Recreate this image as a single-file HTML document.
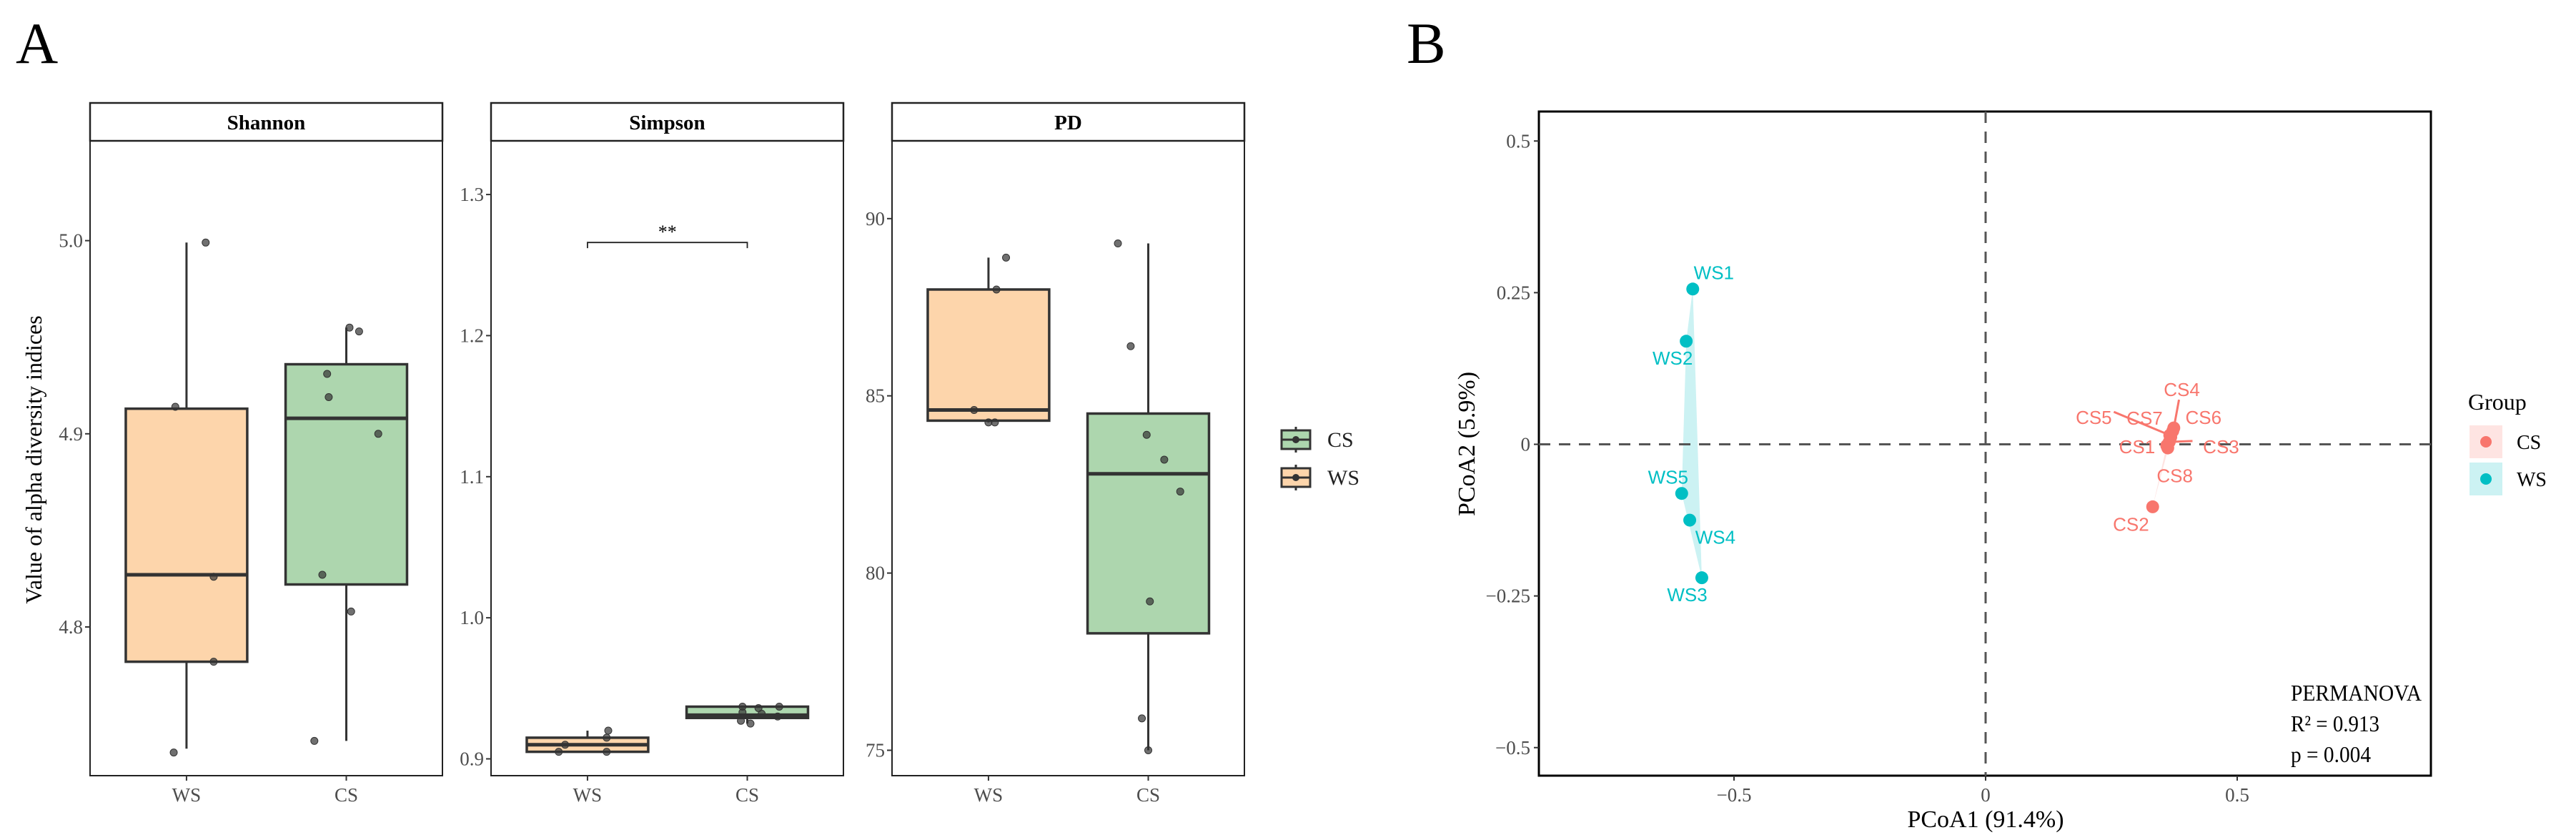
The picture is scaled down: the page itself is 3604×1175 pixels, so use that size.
<!DOCTYPE html>
<html><head><meta charset="utf-8"><style>
html,body{margin:0;padding:0;background:#fff;}
svg{display:block;font-family:"Liberation Serif",serif;}
</style></head><body>
<svg id="fig" width="3604" height="1175" viewBox="0 0 3604 1175" xmlns="http://www.w3.org/2000/svg">
<text x="22" y="88" font-size="82">A</text>
<text x="1968" y="88" font-size="82">B</text>
<text transform="translate(58,643) rotate(-90)" text-anchor="middle" font-size="32">Value of alpha diversity indices</text>
<g id="alpha"></g>
<g id="legend-alpha">
  <line x1="1813" y1="597" x2="1813" y2="633" stroke="#333" stroke-width="3"/>
  <rect x="1793" y="602" width="40" height="26" fill="#ADD6AE" stroke="#333" stroke-width="3"/>
  <line x1="1793" y1="615" x2="1833" y2="615" stroke="#333" stroke-width="3"/>
  <circle cx="1813" cy="615" r="5" fill="#333"/>
  <text x="1857" y="625" font-size="30" fill="#222">CS</text>
  <line x1="1813" y1="650" x2="1813" y2="686" stroke="#333" stroke-width="3"/>
  <rect x="1793" y="655" width="40" height="26" fill="#FDD5AB" stroke="#333" stroke-width="3"/>
  <line x1="1793" y1="668" x2="1833" y2="668" stroke="#333" stroke-width="3"/>
  <circle cx="1813" cy="668" r="5" fill="#333"/>
  <text x="1857" y="678" font-size="30" fill="#222">WS</text>
</g>
<g id="pcoa"></g>
</svg>
<script>
// ---------- alpha diversity data ----------
const groups = ["WS","CS"];
const shannonWS = [4.999,4.914,4.826,4.782,4.735];
const shannonCS = [4.955,4.953,4.931,4.919,4.900,4.827,4.808,4.741];
const shannonJitWS = [0.12,-0.07,0.17,0.17,-0.08];
const shannonJitCS = [0.02,0.08,-0.12,-0.11,0.20,-0.15,0.03,-0.20];
const shannonBoxWS = [4.737,4.782,4.827,4.913,4.999];
const shannonBoxCS = [4.741,4.822,4.908,4.936,4.955];
const shannonTicks = [4.8,4.9,5.0];
const simpsonWS = [0.905,0.910,0.905,0.915,0.920];
const simpsonCS = [0.937,0.933,0.936,0.932,0.927,0.925,0.930,0.937];
const simpsonJitWS = [-0.18,-0.14,0.12,0.12,0.13];
const simpsonJitCS = [-0.03,-0.03,0.07,0.09,-0.04,0.02,0.19,0.20];
const simpsonBoxWS = [0.905,0.905,0.910,0.915,0.920];
const simpsonBoxCS = [0.925,0.929,0.931,0.937,0.937];
const simpsonTicks = [0.9,1.0,1.1,1.2,1.3];
const pdWS = [88.9,88.0,84.6,84.25,84.25];
const pdCS = [89.3,86.4,83.9,83.2,82.3,79.2,75.9,75.0];
const pdJitWS = [0.11,0.05,-0.09,0,0.04];
const pdJitCS = [-0.19,-0.11,-0.01,0.10,0.20,0.01,-0.04,0];
const pdBoxWS = [84.25,84.3,84.6,88.0,88.9];
const pdBoxCS = [75.0,78.3,82.8,84.5,89.3];
const pdTicks = [75,80,85,90];
const sigBracket = [1.262,1.266];

const NS="http://www.w3.org/2000/svg";
function mk(tag,attrs,parent,txt){const e=document.createElementNS(NS,tag);for(const k in attrs)e.setAttribute(k,attrs[k]);if(txt!==undefined)e.textContent=txt;parent.appendChild(e);return e;}
const fills={WS:"#FDD5AB",CS:"#ADD6AE"};
const alpha=document.getElementById('alpha');

const panels=[
 {name:"Shannon",x0:126,x1:619,ref:5.0,refY:336.6,ppu:2702,ticks:shannonTicks,fmt:v=>v.toFixed(1),
  pts:[shannonWS,shannonCS],jit:[shannonJitWS,shannonJitCS],box:[shannonBoxWS,shannonBoxCS]},
 {name:"Simpson",x0:687,x1:1180,ref:0.9,refY:1061.5,ppu:1973.5,ticks:simpsonTicks,fmt:v=>v.toFixed(1),
  pts:[simpsonWS,simpsonCS],jit:[simpsonJitWS,simpsonJitCS],box:[simpsonBoxWS,simpsonBoxCS],sig:true},
 {name:"PD",x0:1248,x1:1741,ref:90,refY:305.8,ppu:49.58,ticks:pdTicks,fmt:v=>String(v),
  pts:[pdWS,pdCS],jit:[pdJitWS,pdJitCS],box:[pdBoxWS,pdBoxCS]}
];
panels.forEach(p=>{
  const g=mk('g',{},alpha);
  
  
  const y=v=>p.refY+(p.ref-v)*p.ppu;
  const w=p.x1-p.x0, step=w*0.4535, cx=[p.x0+w*0.2737, p.x0+w*0.2737+step];
  const bw=step*0.76;
  const top=197,bot=1085;
  const strip=mk('rect',{x:p.x0,y:144,width:w,height:53,fill:"#fff",stroke:"#222","stroke-width":2.5},g);
  
  
  mk('text',{x:(p.x0+p.x1)/2,y:181,"text-anchor":"middle","font-size":29,"font-weight":"bold"},g,p.name);
  mk('rect',{x:p.x0,y:top,width:w,height:bot-top,fill:"none",stroke:"#222","stroke-width":2},g);
  p.ticks.forEach(t=>{
    const ty=y(t);
    mk('line',{x1:p.x0-7,y1:ty,x2:p.x0,y2:ty,stroke:"#333","stroke-width":2},g);
    const tl=mk('text',{x:p.x0-10,y:ty+9,"text-anchor":"end","font-size":27,fill:"#4d4d4d"},g,p.fmt(t));
    
    
  });
  groups.forEach((gname,i)=>{
    mk('line',{x1:cx[i],y1:bot,x2:cx[i],y2:bot+7,stroke:"#333","stroke-width":2},g);
    const xl=mk('text',{x:cx[i],y:1121,"text-anchor":"middle","font-size":27,fill:"#4d4d4d"},g,gname);
    
    
    const b=p.box[i];
    mk('line',{x1:cx[i],y1:y(b[0]),x2:cx[i],y2:y(b[1]),stroke:"#333","stroke-width":3},g);
    mk('line',{x1:cx[i],y1:y(b[3]),x2:cx[i],y2:y(b[4]),stroke:"#333","stroke-width":3},g);
    const bx=mk('rect',{x:cx[i]-bw/2,y:y(b[3]),width:bw,height:Math.max(1,y(b[1])-y(b[3])),fill:fills[gname],stroke:"#333","stroke-width":3.5},g);
    
    
    mk('line',{x1:cx[i]-bw/2,y1:y(b[2]),x2:cx[i]+bw/2,y2:y(b[2]),stroke:"#333","stroke-width":5},g);
    p.pts[i].forEach((v,k)=>{
      const c=mk('circle',{cx:cx[i]+p.jit[i][k]*step,cy:y(v),r:5,fill:"#333","fill-opacity":0.7,stroke:"#333","stroke-width":1},g);
      
      
    });
  });
  if(p.sig){
    const by=y(sigBracket[1]), ty=y(sigBracket[0]);
    mk('path',{d:`M${cx[0]},${ty}V${by}H${cx[1]}V${ty}`,fill:"none",stroke:"#222","stroke-width":1.8},g);
    const s=mk('text',{x:(cx[0]+cx[1])/2,y:by-6,"text-anchor":"middle","font-size":26},g,"**");
    
    
  }
});

// ---------- PCoA data ----------
const wsNames=["WS1","WS2","WS3","WS4","WS5"];
const wsX=[-0.582,-0.595,-0.564,-0.588,-0.604];
const wsY=[0.256,0.170,-0.220,-0.125,-0.081];
const wsLabX=[-0.540,-0.622,-0.593,-0.537,-0.631];
const wsLabY=[0.283,0.142,-0.248,-0.153,-0.054];
const csNames=["CS1","CS2","CS3","CS4","CS5","CS6","CS7","CS8"];
const csX=[0.360,0.332,0.365,0.374,0.366,0.372,0.368,0.362];
const csY=[-0.002,-0.103,0.004,0.027,0.015,0.022,0.012,-0.006];
const csLabX=[0.301,0.289,0.468,0.390,0.215,0.433,0.316,0.376];
const csLabY=[-0.004,-0.132,-0.004,0.090,0.044,0.044,0.043,-0.052];
const pTicksX=[-0.5,0,0.5];
const pTicksY=[-0.5,-0.25,0,0.25,0.5];
const pStats=["PERMANOVA","R² = 0.913","p = 0.004"];

const pc=document.getElementById('pcoa');
const PX0=2153,PX1=3401,PY0=156,PY1=1085;
const sx=v=>2778+v*704, sy=v=>621.5-v*848.5;
const cols={WS:"#00BFC4",CS:"#F8766D"};
mk('rect',{x:PX0,y:PY0,width:PX1-PX0,height:PY1-PY0,fill:"#fff",stroke:"#000","stroke-width":3},pc);
function hull(xs,ys){
  const pts=xs.map((x,i)=>[x,ys[i]]).sort((a,b)=>a[0]-b[0]||a[1]-b[1]);
  const cr=(o,a,b)=>(a[0]-o[0])*(b[1]-o[1])-(a[1]-o[1])*(b[0]-o[0]);
  const lo=[],up=[];
  for(const p of pts){while(lo.length>=2&&cr(lo[lo.length-2],lo[lo.length-1],p)<=0)lo.pop();lo.push(p);}
  for(const p of pts.slice().reverse()){while(up.length>=2&&cr(up[up.length-2],up[up.length-1],p)<=0)up.pop();up.push(p);}
  return lo.slice(0,-1).concat(up.slice(0,-1));
}
[[wsX,wsY,"WS"],[csX,csY,"CS"]].forEach(([xs,ys,gname])=>{
  const h=hull(xs,ys);
  const poly=mk('polygon',{points:h.map(p=>sx(p[0])+","+sy(p[1])).join(" "),fill:cols[gname],"fill-opacity":0.2,stroke:"none"},pc);
  
  
});
mk('line',{x1:2778,y1:PY0,x2:2778,y2:PY1,stroke:"#555","stroke-width":3,"stroke-dasharray":"16,12"},pc);
mk('line',{x1:PX0,y1:sy(0),x2:PX1,y2:sy(0),stroke:"#555","stroke-width":3,"stroke-dasharray":"16,12"},pc);
pTicksX.forEach(t=>{
  mk('line',{x1:sx(t),y1:PY1,x2:sx(t),y2:PY1+7,stroke:"#333","stroke-width":2},pc);
  const tl=mk('text',{x:sx(t),y:1121,"text-anchor":"middle","font-size":27,fill:"#4d4d4d"},pc,t<0?"\u2212"+Math.abs(t):String(t));
  
  
});
pTicksY.forEach(t=>{
  mk('line',{x1:PX0-7,y1:sy(t),x2:PX0,y2:sy(t),stroke:"#333","stroke-width":2},pc);
  const tl=mk('text',{x:PX0-12,y:sy(t)+9,"text-anchor":"end","font-size":27,fill:"#4d4d4d"},pc,t<0?"\u2212"+Math.abs(t):String(t));
  
  
});
// repel segments for crowded CS labels
[4,3,2].forEach(i=>{
  mk('line',{x1:sx(csX[i]),y1:sy(csY[i]),x2:sx(csLabX[i])+(i===4?28:(i===3?-4:-40)),y2:sy(csLabY[i])+(i===3?14:-8),stroke:cols.CS,"stroke-width":3},pc);
});
[[wsNames,wsX,wsY,wsLabX,wsLabY,"WS"],[csNames,csX,csY,csLabX,csLabY,"CS"]].forEach(([nm,xs,ys,lx,ly,gname])=>{
  xs.forEach((x,i)=>{
    const c=mk('circle',{cx:sx(x),cy:sy(ys[i]),r:9,fill:cols[gname]},pc);
    
    
  });
  xs.forEach((x,i)=>{
    const t=mk('text',{x:sx(lx[i]),y:sy(ly[i])+9,"text-anchor":"middle","font-size":26,"font-family":"Liberation Sans, sans-serif",fill:cols[gname]},pc,nm[i]);
    
    
  });
});
pStats.forEach((s,i)=>{
  const t=mk('text',{x:3205,y:980+i*43,"font-size":32,fill:"#000",textLength:[183,124,112][i],lengthAdjust:"spacingAndGlyphs"},pc,s);
  
  
});
const xt=mk('text',{x:2778,y:1157,"text-anchor":"middle","font-size":34},pc,"PCoA1 (91.4%)");


const yt=mk('text',{transform:"translate(2063,621) rotate(-90)","text-anchor":"middle","font-size":34},pc,"PCoA2 (5.9%)");


// group legend
const lg=mk('g',{},pc);


mk('text',{x:3453,y:573,"font-size":32},lg,"Group");
[["CS",595],["WS",647]].forEach(([gname,ky])=>{
  mk('rect',{x:3455,y:ky,width:46,height:46,fill:cols[gname],"fill-opacity":0.2},lg);
  mk('circle',{cx:3478,cy:ky+23,r:8,fill:cols[gname]},lg);
  mk('text',{x:3521,y:ky+33,"font-size":28},lg,gname);
});
</script>
</body></html>
